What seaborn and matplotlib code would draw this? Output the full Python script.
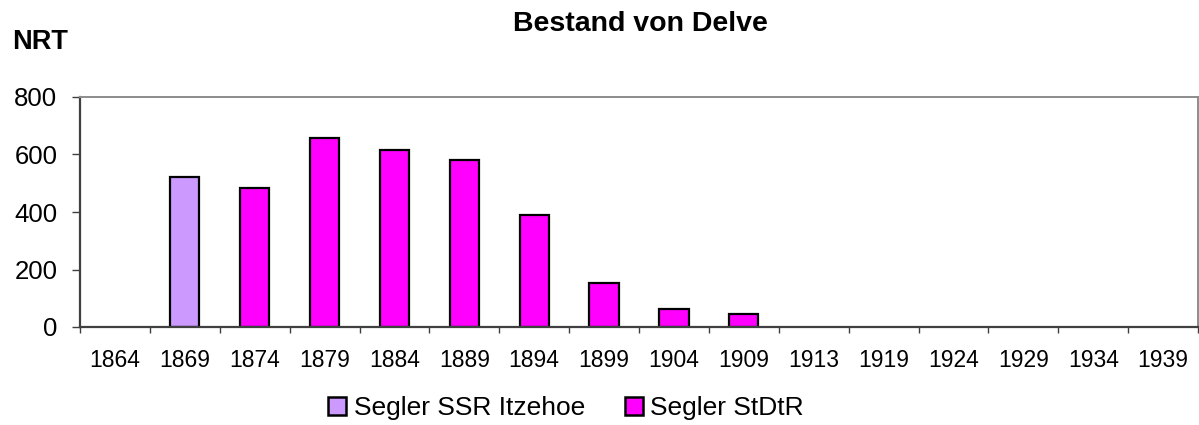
import matplotlib
matplotlib.use("Agg")
import matplotlib.pyplot as plt
import numpy as np
import pandas as pd
import seaborn as sns
from matplotlib.patches import Patch

years = ["1864", "1869", "1874", "1879", "1884", "1889", "1894", "1899",
         "1904", "1909", "1913", "1919", "1924", "1929", "1934", "1939"]
ssr_itzehoe = [0, 520, 0, 0, 0, 0, 0, 0, 0, 0, 0, 0, 0, 0, 0, 0]
stdtr = [0, 0, 483, 657, 615, 582, 391, 153, 64, 45, 0, 0, 0, 0, 0, 0]
series_names = ["Segler SSR Itzehoe", "Segler StDtR"]
colors = ["#CC99FF", "#FF00FF"]

rows = []
for y, a, b in zip(years, ssr_itzehoe, stdtr):
    if a:
        rows.append({"year": y, "nrt": a, "series": series_names[0]})
    if b:
        rows.append({"year": y, "nrt": b, "series": series_names[1]})
df = pd.DataFrame(rows)

sns.set_theme(style="white")
plt.rcParams["font.family"] = ["Liberation Sans", "DejaVu Sans"]
plt.rcParams["text.color"] = "black"
plt.rcParams["xtick.color"] = "black"
plt.rcParams["ytick.color"] = "black"

fig = plt.figure(figsize=(11.99, 4.25), dpi=100)
ax = fig.add_axes([80 / 1199, 1 - 327 / 425, 1118 / 1199, 230 / 425])

sns.barplot(data=df, x="year", y="nrt", hue="series", order=years,
            hue_order=series_names, palette=colors, dodge=False, width=0.42,
            saturation=1, edgecolor="black", linewidth=1.6, legend=False, ax=ax)

ax.set_xlim(-0.5, len(years) - 0.5)
ax.set_ylim(0, 800)
ax.set_yticks([0, 200, 400, 600, 800])
ax.set_xticks(np.arange(len(years)))
ax.set_xticklabels(years)
ax.set_xticks(np.arange(len(years) + 1) - 0.5, minor=True)
ax.tick_params(axis="x", which="major", length=0, labelsize=16.5, pad=16,
               labelcolor="black")
ax.tick_params(axis="x", which="minor", length=4.5, width=1, color="#404040",
               direction="out", bottom=True)
ax.tick_params(axis="y", length=5.8, width=1, color="#404040", direction="out",
               left=True, labelsize=18.5, pad=10.5, labelcolor="black")
ax.set_xlabel("")
ax.set_ylabel("")

for side in ["left", "bottom"]:
    ax.spines[side].set_color("#404040")
    ax.spines[side].set_linewidth(1.6)
for side in ["top", "right"]:
    ax.spines[side].set_color("#8c8c8c")
    ax.spines[side].set_linewidth(1.4)

fig.text(640 / 1199, 1 - 24 / 425, "Bestand von Delve", ha="center", va="center",
         fontsize=20.5, fontweight="bold")
fig.text(12 / 1199, 1 - 42 / 425, "NRT", ha="left", va="center",
         fontsize=19.5, fontweight="bold")

handles = [Patch(facecolor=c, edgecolor="black", linewidth=1.8) for c in colors]
fig.legend(handles, series_names, loc="center", bbox_to_anchor=(566 / 1199, 1 - 408 / 425),
           ncol=2, frameon=False, fontsize=19, handlelength=0.68, handleheight=0.68,
           handletextpad=0.3, columnspacing=1.5, borderpad=0, borderaxespad=0)

fig.savefig("out.png", dpi=100)
